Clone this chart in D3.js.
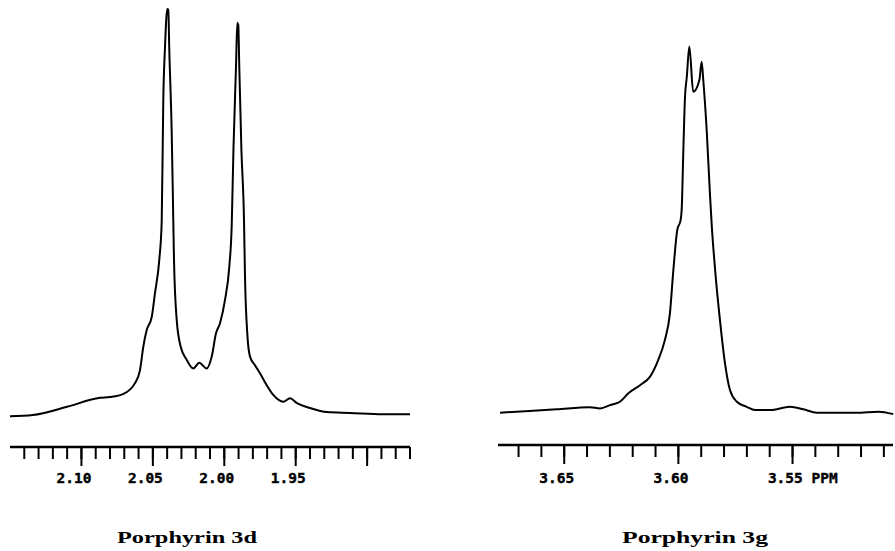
<!DOCTYPE html>
<html><head><meta charset="utf-8">
<script src="https://cdn.jsdelivr.net/npm/d3@7"></script>
<style>html,body{margin:0;padding:0;background:#fff;} svg{display:block}</style>
</head><body>
<svg id="c" width="895" height="551"></svg>
<script>
// Porphyrin 3d spectrum (chemical shift, ppm) and relative intensity
const ppm3d = [2.150,2.134,2.110,2.087,2.080,2.0709,2.0625,2.059,2.0567,2.0543,2.0508,2.0485,2.0455,2.0438,2.0427,2.0415,2.0399,2.0392,2.0385,2.0368,2.0357,2.0352,2.0333,2.0305,2.0263,2.0217,2.0175,2.0123,2.0088,2.0058,2.0030,1.9995,1.9965,1.9948,1.9936,1.9918,1.9909,1.9902,1.9895,1.9880,1.9862,1.9855,1.9839,1.9820,1.9785,1.9750,1.9703,1.9657,1.9587,1.9540,1.9491,1.9400,1.9281,1.9120,1.8889,1.8700];
const int3d = [0.2,0.5,2.5,4.7,4.9,5.6,8.3,11.5,17.2,21.3,24.5,30.4,38.5,48.0,77.7,90.7,100,99.8,90.0,69.6,48.3,38.5,23.8,17.2,14.0,11.9,13.3,11.9,14.8,20.5,23.0,28.7,36.8,47.0,65.4,85.8,96.6,96.1,85.8,65.4,48.3,34.4,20.5,14.8,12.7,10.7,7.8,5.4,3.75,4.6,3.4,2.2,1.2,1.0,0.7,0.7];

// Porphyrin 3g spectrum
const ppm3g = [3.6781,3.6533,3.6387,3.6343,3.6299,3.6256,3.6219,3.6168,3.6124,3.6088,3.6059,3.6037,3.6022,3.6005,3.5990,3.5985,3.5978,3.5971,3.5963,3.5952,3.5935,3.5908,3.5898,3.5891,3.5876,3.5861,3.5854,3.5839,3.5818,3.5796,3.5774,3.5744,3.5701,3.5664,3.5599,3.5511,3.5453,3.5394,3.5219,3.5124,3.5059];
const int3g = [1.05,1.9,2.4,2.1,2.9,3.75,5.8,7.8,9.9,14.0,18.9,25.4,36.0,45.8,48.3,51.5,65.9,78.4,83.4,90.8,79.7,82.6,87.1,82.6,70.3,53.9,47.1,36.0,23.8,13.2,6.6,3.75,2.5,1.7,1.7,2.5,1.9,1.05,1.05,1.3,0.7];

// Axis ticks and labels
const major3d = [2.10,2.05,2.00,1.95,1.90];
const labels3d = ["2.10","2.05","2.00","1.95",""];
const major3g = [3.65,3.60,3.55];
const labels3g = ["3.65","3.60","3.55 PPM"];
const titles = ["Porphyrin 3d","Porphyrin 3g"];

const svg = d3.select("#c");
const y = d3.scaleLinear().domain([0,100]).range([417,9]);

function panel(opts){
  const x = d3.scaleLinear().domain(opts.domain).range(opts.range);
  const pts = opts.ppm.map((p,i)=>[p,opts.int[i]]);
  const line = d3.line().x(d=>x(d[0])).y(d=>y(d[1])).curve(d3.curveMonotoneX);
  svg.append("path").datum(pts).attr("d",line)
    .attr("fill","none").attr("stroke","#000").attr("stroke-width",2)
    .attr("stroke-linejoin","round");

  const g = svg.append("g");
  g.append("line").attr("x1",opts.range[0]).attr("x2",opts.range[1])
    .attr("y1",opts.axisY).attr("y2",opts.axisY)
    .attr("stroke","#000").attr("stroke-width",2.5);
  g.selectAll("line.minor").data(opts.minor).enter().append("line")
    .attr("class","minor")
    .attr("x1",d=>x(d)).attr("x2",d=>x(d))
    .attr("y1",opts.axisY).attr("y2",opts.axisY+12)
    .attr("stroke","#000").attr("stroke-width",2);
  g.selectAll("line.major").data(opts.major).enter().append("line")
    .attr("class","major")
    .attr("x1",d=>x(d)).attr("x2",d=>x(d))
    .attr("y1",opts.axisY).attr("y2",opts.axisY+19)
    .attr("stroke","#000").attr("stroke-width",2);
  g.selectAll("text.lab").data(opts.major).enter().append("text")
    .attr("class","lab")
    .attr("x",(d,i)=>x(d)+10 + (opts.labels[i].length>4 ? (opts.labels[i].length-4)*8.8 : 0))
    .attr("y",483)
    .attr("text-anchor","end")
    .attr("font-family","DejaVu Sans Mono")
    .attr("font-weight","bold")
    .attr("font-size",14.5)
    .attr("stroke","#000").attr("stroke-width",0.4)
    .text((d,i)=>opts.labels[i]);
  svg.append("text").attr("x",opts.titleX).attr("y",543)
    .attr("text-anchor","middle")
    .attr("font-family","Liberation Serif")
    .attr("font-weight","bold")
    .attr("font-size",16.5)
    .attr("textLength",opts.titleW).attr("lengthAdjust","spacingAndGlyphs")
    .text(opts.title);
}

const minor3d = d3.range(214,186,-1).map(v=>v/100);
const minor3g = d3.range(367,350,-1).map(v=>v/100);

panel({ppm:ppm3d,int:int3d,domain:[2.15,1.87],range:[10,410],axisY:447,
  minor:minor3d,major:major3d,labels:labels3d,title:titles[0],titleX:187,titleW:140});
panel({ppm:ppm3g,int:int3g,domain:[3.679,3.506],range:[498,893],axisY:445,
  minor:minor3g,major:major3g,labels:labels3g,title:titles[1],titleX:695,titleW:146});
</script>
</body></html>
